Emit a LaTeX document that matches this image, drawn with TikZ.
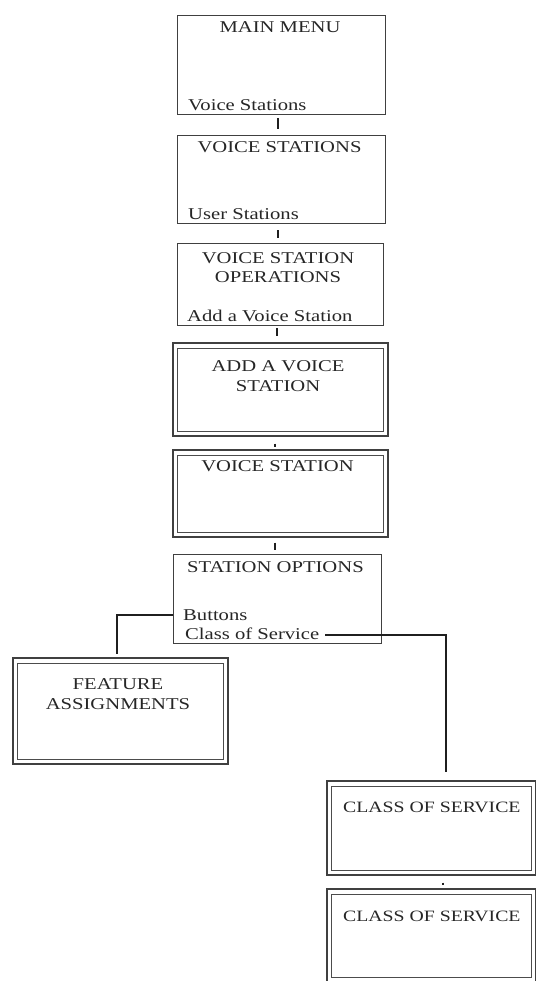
\documentclass[tikz,border=0pt]{standalone}
\usepackage{fontspec}
\setmainfont{Liberation Serif}[FakeStretch=1.25]
\begin{document}
\begin{tikzpicture}[x=1pt,y=-1pt,
  box/.style={draw=black!75, line width=0.9pt, inner sep=0pt},
  obox/.style={draw=black!75, line width=1.2pt, inner sep=0pt},
  inbox/.style={draw=black!70, line width=0.8pt},
  conn/.style={draw=black!88, line width=1.3pt},
  ttl/.style={inner sep=0pt, text=black!85, font=\fontsize{16.5}{19.5}\selectfont, align=center},
  itm/.style={inner sep=0pt, text=black!85, font=\fontsize{16.5}{19}\selectfont, anchor=west}]
\useasboundingbox (0,0) rectangle (536,981);
% plain boxes
\node[box, minimum width=208pt, minimum height=99pt] (mm) at (281,64.5) {};
\node[box, minimum width=208pt, minimum height=88pt] (vs) at (281,179) {};
\node[box, minimum width=206pt, minimum height=82pt] (vso) at (280,284) {};
\node[box, minimum width=208pt, minimum height=89pt] (so) at (277,598.5) {};
% double boxes
\node[obox, minimum width=215pt, minimum height=93pt] (add) at (280.5,389.5) {};
\node[obox, minimum width=215pt, minimum height=87pt] (vst) at (280.5,493.5) {};
\node[obox, minimum width=215pt, minimum height=106pt] (fa) at (120.5,711) {};
\node[obox, minimum width=208.5pt, minimum height=94pt] (cs1) at (431.25,828) {};
\node[obox, minimum width=208.5pt, minimum height=93.5pt] (cs2) at (431.25,935.75) {};
\foreach \n in {add,vst,fa,cs1,cs2}{
  \draw[inbox] ([xshift=5pt,yshift=-5.5pt]\n.north west) rectangle ([xshift=-5pt,yshift=5.5pt]\n.south east);
}
% texts
\node[ttl] (t1) at (280,27.5) {MAIN MENU};
\node[itm] (i1) at (188,105) {Voice Stations};
\node[ttl] (t2) at (279.5,147) {VOICE STATIONS};
\node[itm] (i2) at (188,214) {User Stations};
\node[ttl] (t3) at (278,267.5) {VOICE STATION\\OPERATIONS};
\node[itm] (i3) at (187,316) {Add a Voice Station};
\node[ttl] (t4) at (278,376) {ADD A VOICE\\STATION};
\node[ttl] (t5) at (277.5,466) {VOICE STATION};
\node[ttl] (t6) at (275.5,567) {STATION OPTIONS};
\node[itm] (btn) at (183,615) {Buttons};
\node[itm] (cos) at (185,634) {Class of Service};
\node[ttl] (t7) at (118,694) {FEATURE\\ASSIGNMENTS};
\node[itm, font=\fontsize{15.8}{19}\selectfont] (t8) at (343,807) {CLASS OF SERVICE};
\node[itm, font=\fontsize{15.8}{19}\selectfont] (t9) at (343,916) {CLASS OF SERVICE};
% connectors
\draw[conn, shorten <=4pt, shorten >=6pt] ([xshift=-3pt]mm.south) -- ([xshift=-3pt]mm.south |- vs.north);
\draw[conn, shorten <=7pt, shorten >=5pt] ([xshift=-3pt]vs.south) -- ([xshift=-3pt]vs.south |- vso.north);
\draw[conn, shorten <=3pt, shorten >=6pt] ([xshift=-3pt]vso.south) -- ([xshift=-3pt]vso.south |- add.north);
\draw[conn, shorten <=7pt, shorten >=2pt] ([xshift=-5.5pt]add.south) -- ([xshift=-5.5pt]add.south |- vst.north);
\draw[conn, shorten <=5pt, shorten >=4pt] ([xshift=-5.5pt]vst.south) -- ([xshift=-5.5pt]vst.south |- so.north);
\draw[conn] (so.west |- btn.west) -| ([xshift=-3.5pt,yshift=3pt]fa.north);
\draw[conn] ([xshift=6pt,yshift=-1pt]cos.east) -| ([xshift=14.75pt,yshift=8pt]cs1.north);
\draw[conn, shorten <=7pt, shorten >=3pt] ([xshift=11.75pt]cs1.south) -- ([xshift=11.75pt]cs1.south |- cs2.north);
\end{tikzpicture}
\end{document}
